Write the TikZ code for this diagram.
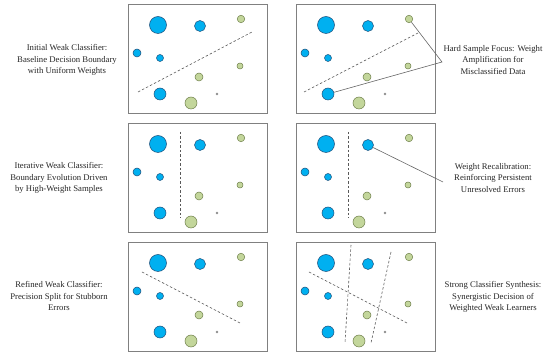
\documentclass[tikz,border=0pt]{standalone}
\usepackage{fontspec}
\setmainfont{Liberation Serif}
\usepackage{tikz}
\usetikzlibrary{positioning,calc}

\definecolor{ptblue}{HTML}{00B0F0}
\definecolor{ptblueline}{HTML}{1F4E79}
\definecolor{ptgreen}{HTML}{C3D69B}
\definecolor{ptgreenline}{HTML}{6E7F4A}
\definecolor{frame}{HTML}{808080}

\tikzset{
  panel/.style={draw=frame, line width=0.9pt},
  possample/.style={circle, draw=ptblueline, fill=ptblue, line width=0.5pt, inner sep=0pt, minimum size=#1},
  negsample/.style={circle, draw=ptgreenline, fill=ptgreen, line width=0.5pt, inner sep=0pt, minimum size=#1},
  boundary/.style={draw=black!65, dash pattern=on 2.5pt off 2pt, line width=0.6pt},
  callout/.style={draw=black!60, line width=0.6pt},
  caption/.style={align=center, text=black!85, font=\fontsize{8.7}{11.5}\selectfont}
}

% one panel of samples, names prefixed by #1
\newcommand{\samplepanel}[3]{%
  \begin{scope}[shift={(#2,#3)}]
    \draw[panel] (0,0) rectangle (139,109);
    \node[possample=17pt] (#1b1) at (30,21) {};
    \node[possample=11pt] (#1b2) at (72,22) {};
    \node[negsample=7.5pt] (#1g1) at (113,15) {};
    \node[possample=8pt] (#1b3) at (9,49) {};
    \node[possample=7pt] (#1b4) at (32,54) {};
    \node[negsample=6pt] (#1g2) at (112,62) {};
    \node[negsample=8pt] (#1g3) at (71,73) {};
    \node[possample=12pt] (#1b5) at (32,90) {};
    \node[negsample=12pt] (#1g4) at (63,99) {};
    \node[circle, fill=black!45, inner sep=0pt, minimum size=2.6pt] (#1g5) at (89,90) {};
  \end{scope}}

\begin{document}
\begin{tikzpicture}[x=1pt, y=-1pt]
\useasboundingbox (0,0) rectangle (550,355);

% panels
\samplepanel{p}{128}{4}
\samplepanel{q}{296}{4}
\samplepanel{r}{128}{123}
\samplepanel{s}{296}{123}
\samplepanel{t}{128}{242}
\samplepanel{u}{296}{242}

% decision boundaries
\draw[boundary] (138,92) -- (252,32);
\draw[boundary] (304,92) -- (418,33);
\draw[boundary] (180,132) -- (180,218);
\draw[boundary] (348,132) -- (348,218);
\draw[boundary] (142,272) -- (240,323);
\draw[boundary] (309,272) -- (407,323);
\draw[boundary] (351,245) -- (345,343);
\draw[boundary] (391,252) -- (371,343);

% captions
\node[caption] (c1) at (67,60) {Initial Weak Classifier:\\Baseline Decision Boundary\\with Uniform Weights};
\node[caption] (c2) at (59,178) {Iterative Weak Classifier:\\Boundary Evolution Driven\\by High-Weight Samples};
\node[caption] (c3) at (59,296) {Refined Weak Classifier:\\Precision Split for Stubborn\\Errors};
\node[caption] (c4) at (493,60) {Hard Sample Focus: Weight\\Amplification for\\Misclassified Data};
\node[caption] (c5) at (493,178) {Weight Recalibration:\\Reinforcing Persistent\\Unresolved Errors};
\node[caption] (c6) at (493,297) {Strong Classifier Synthesis:\\Synergistic Decision of\\Weighted Weak Learners};

% callouts
\coordinate (k4) at (442,62);
\coordinate (k5) at (443,182);
\draw[callout] (qg1) -- (k4) -- (qb5);
\draw[callout] (sb2) -- (k5);

\end{tikzpicture}
\end{document}
